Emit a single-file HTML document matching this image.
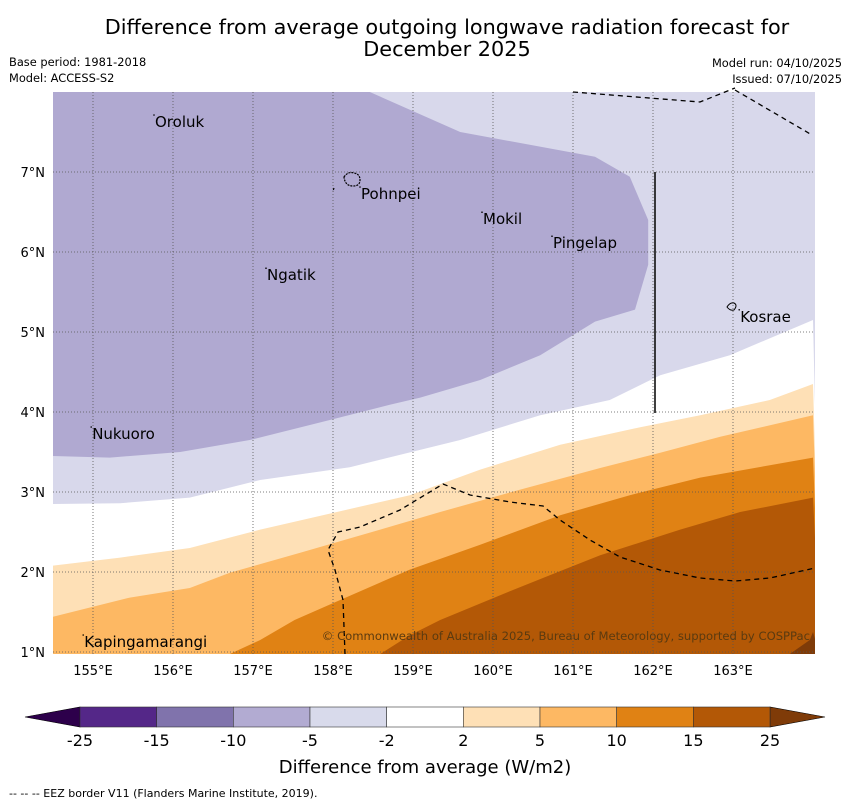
<!DOCTYPE html>
<html><head><meta charset="utf-8"><style>
body{margin:0;background:#fff;font-family:"DejaVu Sans","Liberation Sans",sans-serif}
svg{display:block}
</style></head><body>
<svg width="850" height="804" xmlns="http://www.w3.org/2000/svg">
<text x="447" y="34" font-size="20.8" text-anchor="middle">Difference from average outgoing longwave radiation forecast for</text>
<text x="447" y="56" font-size="20.8" text-anchor="middle">December 2025</text>
<text x="9" y="66" font-size="11.4">Base period: 1981-2018</text>
<text x="9" y="82" font-size="11.4">Model: ACCESS-S2</text>
<text x="842" y="67" font-size="11.4" text-anchor="end">Model run: 04/10/2025</text>
<text x="842" y="83" font-size="11.4" text-anchor="end">Issued: 07/10/2025</text>
<defs><clipPath id="mc"><rect x="53" y="92" width="762" height="562"/></clipPath></defs>
<g id="map" clip-path="url(#mc)">
<rect x="53" y="92" width="762" height="562" fill="#d8d8eb"/>
</g>
<g id="over"></g>
<g id="axes"></g>
<g id="cbar"></g>
<text x="425" y="773" font-size="18" text-anchor="middle">Difference from average (W/m2)</text>
<text x="9" y="797" font-size="11">--  --  -- EEZ border V11 (Flanders Marine Institute, 2019).</text>
</svg>
<script>
const NS='http://www.w3.org/2000/svg';
const lonTicks=[155,156,157,158,159,160,161,162,163];
const latTicks=[1,2,3,4,5,6,7];
const cbLevels=['-25','-15','-10','-5','-2','2','5','10','15','25'];
const cbColors=['#542788','#8073ac','#b2abd2','#d8daeb','#ffffff','#fee0b6','#fdb863','#e08214','#b35806'];
const purpleEdge=[[154.5,8.0],[158.46,8.0],[159.59,7.5],[161.275,7.19],[161.71,6.94],[161.94,6.4],[161.94,5.84],[161.775,5.28],[161.275,5.13],[160.59,4.71],[159.84,4.4],[159.09,4.18],[158.71,4.09],[157.96,3.9],[156.96,3.65],[156.09,3.5],[155.21,3.43],[154.5,3.45]];
const whiteEdge=[[154.5,2.85],[155.34,2.86],[156.21,2.93],[157.09,3.15],[158.21,3.31],[159.59,3.65],[160.59,3.96],[161.46,4.15],[162.09,4.46],[162.96,4.71],[164.0,5.15]];
const orange2Edge=[[154.5,2.08],[155.34,2.18],[156.21,2.3],[157.09,2.53],[157.96,2.73],[158.96,2.96],[159.84,3.28],[160.84,3.59],[161.84,3.81],[162.59,3.96],[163.46,4.15],[164.0,4.35]];
const orange5Edge=[[154.5,1.44],[155.46,1.68],[156.21,1.8],[156.71,1.99],[157.59,2.24],[158.59,2.53],[159.34,2.75],[160.34,3.03],[161.34,3.3],[162.09,3.49],[162.84,3.69],[164.0,3.96]];
const orange10Edge=[[156.71,0.975],[157.09,1.15],[157.52,1.4],[158.09,1.65],[158.96,2.03],[159.84,2.34],[160.84,2.71],[161.71,2.96],[162.59,3.18],[164.0,3.43]];
const orange15Edge=[[158.59,0.975],[158.96,1.21],[159.34,1.4],[160.09,1.71],[160.71,1.96],[161.34,2.21],[162.34,2.53],[163.09,2.75],[164.0,2.93]];
const orange25Edge=[[163.71,0.975],[163.96,1.15],[164.0,1.25]];
const islandNames=['Oroluk','Pohnpei','Mokil','Pingelap','Ngatik','Kosrae','Nukuoro','Kapingamarangi'];
const islandLon=[155.775,158.35,159.875,160.75,157.175,163.09,154.99,154.89];
const islandLat=[7.625,6.725,6.41,6.11,5.71,5.19,3.725,1.125];
const sx=lon=>53+(lon-154.5)*80, sy=lat=>652-(lat-1)*80;
const map=document.getElementById('map'),over=document.getElementById('over'),axes=document.getElementById('axes'),cb=document.getElementById('cbar');
function el(t,a,p){const e=document.createElementNS(NS,t);for(const k in a)e.setAttribute(k,a[k]);p.appendChild(e);return e;}
function band(edge,color,name,close){
  let pts=edge.map(p=>sx(p[0])+','+sy(p[1]));
  if(close==='bottom'){pts.push(sx(164.1)+','+sy(0.9));pts.push(sx(154.4)+','+sy(0.9));}
  const e=el('polygon',{points:pts.join(' '),fill:color},map);
  
  
}
band(purpleEdge,'#b0a9d1','contour-minus5-to-minus10');
band(whiteEdge,'#ffffff','contour-minus2-to-2','bottom');
band(orange2Edge,'#fee0b6','contour-2-to-5','bottom');
band(orange5Edge,'#fdb863','contour-5-to-10','bottom');
band(orange10Edge,'#e08214','contour-10-to-15','bottom');
band(orange15Edge,'#b35806','contour-15-to-25','bottom');
band(orange25Edge,'#7f3b08','contour-above-25','bottom');
lonTicks.forEach(l=>{const g=el('line',{x1:sx(l),x2:sx(l),y1:92,y2:654,stroke:'#555','stroke-width':0.8,'stroke-dasharray':'1,2'},over);
 const t=el('text',{x:sx(l),y:675,'font-size':13,'text-anchor':'middle'},axes);t.textContent=l+'°E';});
latTicks.forEach(l=>{const g=el('line',{x1:53,x2:815,y1:sy(l),y2:sy(l),stroke:'#555','stroke-width':0.8,'stroke-dasharray':'1,2'},over);
 const t=el('text',{x:45,y:sy(l)+5,'font-size':13,'text-anchor':'end'},axes);t.textContent=l+'°N';});
[["573,92 700,102 735,88"],["735,90 812,135"],["345,654 343,600 335,570 328,550 338,532 360,527 400,510 443,484 470,495 510,502 543,506 560,520 590,540 620,557 660,570 700,578 735,581 770,578 815,568"]].forEach(p=>{const e=el('polyline',{points:p[0],fill:'none',stroke:'#000','stroke-width':1.3,'stroke-dasharray':'5,4'},over);});
const vl=el('line',{x1:655,x2:655,y1:172,y2:413,stroke:'#000','stroke-width':1.5},over);
const ph=el('path',{d:'M344,177 q4,-6 10,-4 q6,1 6,7 q0,6 -7,6 q-8,0 -9,-9 z M334,188 l-1,3',fill:'none',stroke:'#000','stroke-width':1.2,'stroke-dasharray':'2,1'},over);
const ks=el('path',{d:'M727,307 q3,-5 7,-4 q4,2 0,7 q-4,1 -7,-3 z',fill:'none',stroke:'#000','stroke-width':1},over);
islandNames.forEach((n,i)=>{const t=el('text',{x:sx(islandLon[i]),y:sy(islandLat[i])+5,'font-size':15},over);t.textContent=n;
 const d=el('circle',{cx:sx(islandLon[i])-1,cy:sy(islandLat[i])-7,r:0.8,fill:'#000'},over);});
const cr=el('text',{x:810,y:640,'font-size':11.6,'text-anchor':'end',fill:'#5a3a10'},over);cr.textContent='© Commonwealth of Australia 2025, Bureau of Meteorology, supported by COSPPac';
const x0=80,x1=770,w=(x1-x0)/cbColors.length,y0=707,h=20;
const lt=el('polygon',{points:`25,${y0+h/2} ${x0},${y0} ${x0},${y0+h}`,fill:'#2d004b',stroke:'#000','stroke-width':0.6},cb);
const rt=el('polygon',{points:`825,${y0+h/2} ${x1},${y0} ${x1},${y0+h}`,fill:'#7f3b08',stroke:'#000','stroke-width':0.6},cb);
cbColors.forEach((c,i)=>{const r=el('rect',{x:x0+i*w,y:y0,width:w,height:h,fill:c,stroke:'#333','stroke-width':0.6},cb);});
cbLevels.forEach((l,i)=>{const t=el('text',{x:x0+i*w,y:746,'font-size':16,'text-anchor':'middle'},cb);t.textContent=l;});
</script>
</body></html>
